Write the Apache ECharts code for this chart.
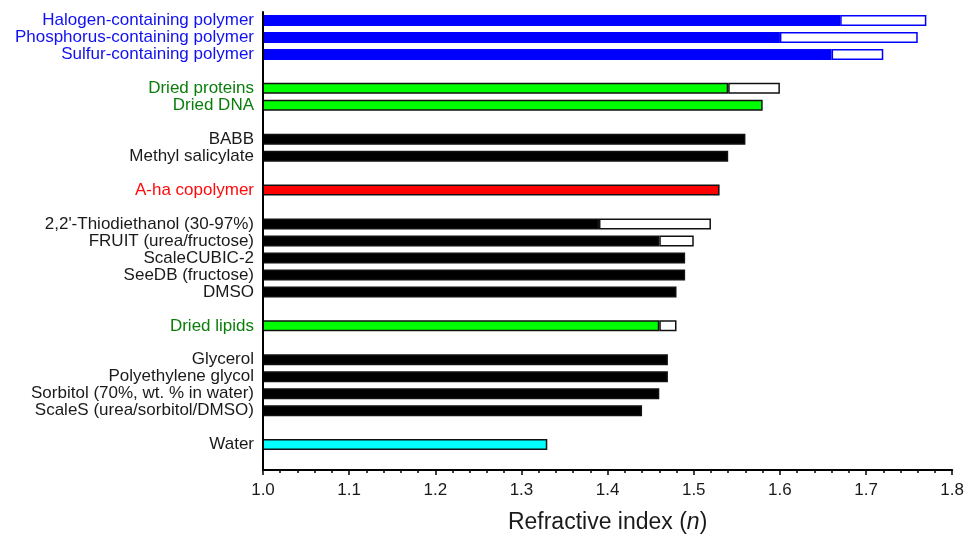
<!DOCTYPE html>
<html>
<head>
<meta charset="utf-8">
<script src="https://cdn.jsdelivr.net/npm/echarts@6/dist/echarts.min.js"></script>
<style>html,body{margin:0;padding:0;background:#fff}#c{width:967px;height:539px}</style>
</head>
<body>
<div id="c"></div>
<script>
// Rows from top to bottom; '_gapN' entries are blank spacer rows.
var categories = ['Halogen-containing polymer','Phosphorus-containing polymer','Sulfur-containing polymer','_gap1',
  'Dried proteins','Dried DNA','_gap2',
  'BABB','Methyl salicylate','_gap3',
  'A-ha copolymer','_gap4',
  "2,2'-Thiodiethanol (30-97%)",'FRUIT (urea/fructose)','ScaleCUBIC-2','SeeDB (fructose)','DMSO','_gap5',
  'Dried lipids','_gap6',
  'Glycerol','Polyethylene glycol','Sorbitol (70%, wt. % in water)','ScaleS (urea/sorbitol/DMSO)','_gap7',
  'Water','_gap8'];
var groups = ['blue','blue','blue',null,
  'green','green',null,
  'black','black',null,
  'red',null,
  'black','black','black','black','black',null,
  'green',null,
  'black','black','black','black',null,
  'cyan',null];
// filled bar end (lower refractive index)
var lowValues = [1.67,1.60,1.66,null,
  1.54,1.58,null,
  1.56,1.54,null,
  1.53,null,
  1.39,1.46,1.49,1.49,1.48,null,
  1.46,null,
  1.47,1.47,1.46,1.44,null,
  1.33,null];
// open bar end (upper end of range), null if no range
var highValues = [1.77,1.76,1.72,null,
  1.60,null,null,
  null,null,null,
  null,null,
  1.52,1.50,null,null,null,null,
  1.48,null,
  null,null,null,null,null,
  null,null];
var xTicks = [1.0,1.1,1.2,1.3,1.4,1.5,1.6,1.7,1.8];

var fillColor = {blue:'#0000ff', green:'#00ff00', black:'#000000', red:'#ff0000', cyan:'#00ffff'};
var edgeColor = {blue:'#0000ff', green:'#111111', black:'#111111', red:'#111111', cyan:'#111111'};
var textColor = {blue:'#1010f0', green:'#0a7d0a', black:'#1a1a1a', red:'#ff0a0a', cyan:'#1a1a1a'};
var FONT = 'Liberation Sans, Arial, sans-serif';

var yData = categories.map(function(c,i){
  var g = groups[i];
  return {value:c, textStyle:{color: g ? textColor[g] : '#000'}};
});
var lowData = lowValues.map(function(v,i){
  if (v == null) return null;
  var g = groups[i];
  return {value:v, itemStyle:{color:fillColor[g], borderColor:edgeColor[g]}};
});
var highData = highValues.map(function(v,i){
  if (v == null) return null;
  var g = groups[i];
  return {value:+(v - lowValues[i]).toFixed(4), itemStyle:{color:'#ffffff', borderColor:edgeColor[g]}};
});

var chart = echarts.init(document.getElementById('c'), null, {renderer:'canvas'});
chart.setOption({
  animation:false,
  backgroundColor:'#ffffff',
  grid:{left:263, right:14, top:12, bottom:64, containLabel:false},
  xAxis:{
    type:'value', min:xTicks[0], max:xTicks[xTicks.length-1], interval:0.1,
    axisLine:{show:true, onZero:false, lineStyle:{color:'#000', width:2}},
    axisTick:{show:true, length:5, lineStyle:{color:'#000', width:1.5}},
    minorTick:{show:true, splitNumber:5, length:3, lineStyle:{color:'#000', width:1.5}},
    splitLine:{show:false},
    axisLabel:{margin:12, fontSize:17, color:'#1a1a1a', fontFamily:FONT,
      formatter:function(v){return v.toFixed(1);}},
    name:'Refractive index ({i|n})', nameLocation:'middle', nameGap:41,
    nameTextStyle:{fontSize:23, color:'#1a1a1a', fontFamily:FONT,
      rich:{i:{fontSize:23, fontStyle:'italic', color:'#1a1a1a', fontFamily:FONT}}}
  },
  yAxis:{
    type:'category', inverse:true, data:yData, z:5,
    axisLine:{show:true, lineStyle:{color:'#000', width:2}},
    axisTick:{show:false},
    splitLine:{show:false},
    axisLabel:{margin:9, fontSize:17, interval:0, fontFamily:FONT,
      formatter:function(v){return v.indexOf('_gap')===0 ? '' : v;}}
  },
  series:[
    {type:'bar', stack:'r', data:lowData, barWidth:11, clip:true,
     itemStyle:{borderWidth:1.5}},
    {type:'bar', stack:'r', data:highData, barWidth:11, clip:true,
     itemStyle:{borderWidth:1.5}}
  ]
});
</script>
</body>
</html>
